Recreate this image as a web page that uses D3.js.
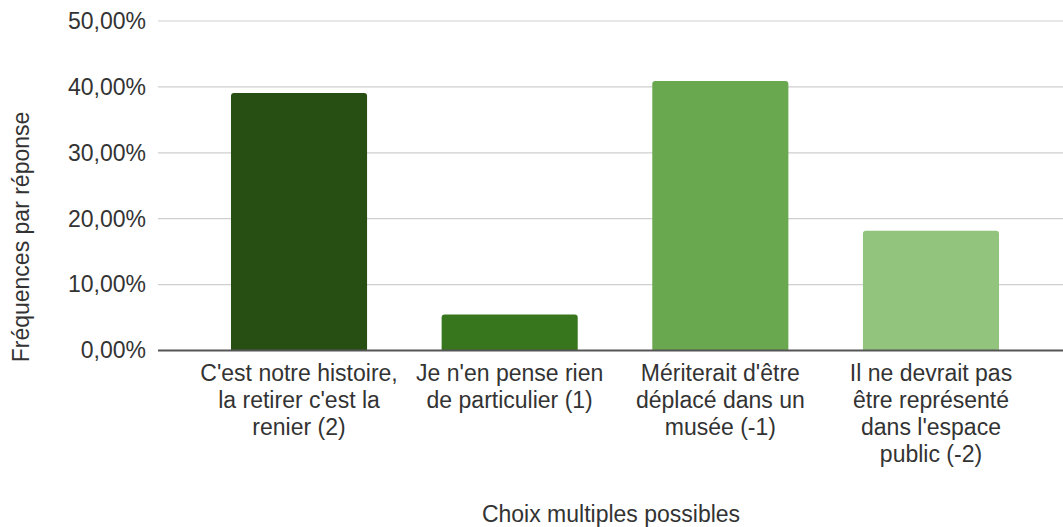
<!DOCTYPE html>
<html>
<head>
<meta charset="utf-8">
<script src="https://cdn.jsdelivr.net/npm/d3@7"></script>
<style>
  html, body { margin: 0; padding: 0; background: #ffffff; }
  svg { display: block; }
  text { font-family: "Liberation Sans", Arial, sans-serif; fill: #333333; }
</style>
</head>
<body>
<svg id="chart" width="1063" height="527"></svg>
<script>
// Réponses (libellés sur plusieurs lignes)
const categories = [
  ["C'est notre histoire,", "la retirer c'est la", "renier (2)"],
  ["Je n'en pense rien", "de particulier (1)"],
  ["Mériterait d'être", "déplacé dans un", "musée (-1)"],
  ["Il ne devrait pas", "être représenté", "dans l'espace", "public (-2)"]
];
// Fréquence de chaque réponse, en %
const frequencies = [39.09, 5.45, 40.91, 18.18];
const barColors = ["#274e13", "#38761d", "#6aa84f", "#93c47d"];
const yTicks = [0, 10, 20, 30, 40, 50];
const yTitle = "Fréquences par réponse";
const xTitle = "Choix multiples possibles";

const FONT = "'Liberation Sans', Arial, sans-serif";
const FS = 23;

const svg = d3.select("#chart");
const plot = { left: 158, right: 1063, top: 21, bottom: 350.5 };

const keys = categories.map((c, i) => i);
const x = d3.scaleBand()
  .domain(keys)
  .range([193.7, 1036.3])
  .paddingInner(0.354)
  .paddingOuter(0.177);

const y = d3.scaleLinear()
  .domain([0, 50])
  .range([plot.bottom, plot.top]);

const fmt = v => d3.format(".2f")(v).replace(".", ",") + "%";

// Grille horizontale
svg.append("g")
  .selectAll("line")
  .data(yTicks.filter(t => t !== 0))
  .join("line")
  .attr("x1", plot.left).attr("x2", plot.right)
  .attr("y1", d => y(d)).attr("y2", d => y(d))
  .attr("stroke", "#cfcfcf")
  .attr("stroke-width", 1.2);

// Axe vertical : libellés des graduations
const yAxis = d3.axisLeft(y).tickValues(yTicks).tickFormat(fmt).tickSize(0).tickPadding(12);
svg.append("g")
  .attr("transform", `translate(${plot.left},0)`)
  .call(yAxis)
  .call(g => g.select(".domain").remove())
  .call(g => g.selectAll("text")
    .attr("font-size", FS)
    .attr("font-family", FONT)
    .attr("fill", "#333333"));

// Barres à coins supérieurs arrondis
const r = 3;
function barPath(x0, w, yTop, yBase) {
  return `M${x0},${yBase}V${yTop + r}Q${x0},${yTop} ${x0 + r},${yTop}` +
         `H${x0 + w - r}Q${x0 + w},${yTop} ${x0 + w},${yTop + r}V${yBase}Z`;
}
svg.append("g")
  .selectAll("path")
  .data(frequencies)
  .join("path")
  .attr("d", (d, i) => barPath(x(i), x.bandwidth(), y(d), y(0)))
  .attr("fill", (d, i) => barColors[i]);

// Ligne de base
svg.append("line")
  .attr("x1", plot.left).attr("x2", plot.right)
  .attr("y1", y(0)).attr("y2", y(0))
  .attr("stroke", "#555555")
  .attr("stroke-width", 2);

// Libellés des catégories
const lineH = 27;
const labels = svg.append("g")
  .selectAll("text")
  .data(categories)
  .join("text")
  .attr("text-anchor", "middle")
  .attr("font-size", FS)
  .attr("transform", (d, i) => `translate(${x(i) + x.bandwidth() / 2},381)`);
labels.selectAll("tspan")
  .data(d => d)
  .join("tspan")
  .attr("x", 0)
  .attr("y", (d, j) => j * lineH)
  .text(d => d);

// Titres des axes
svg.append("text")
  .attr("text-anchor", "middle")
  .attr("font-size", FS)
  .attr("x", 611)
  .attr("y", 522)
  .text(xTitle);

svg.append("text")
  .attr("text-anchor", "middle")
  .attr("font-size", FS)
  .attr("transform", "translate(28.5,237) rotate(-90)")
  .text(yTitle);
</script>
</body>
</html>
